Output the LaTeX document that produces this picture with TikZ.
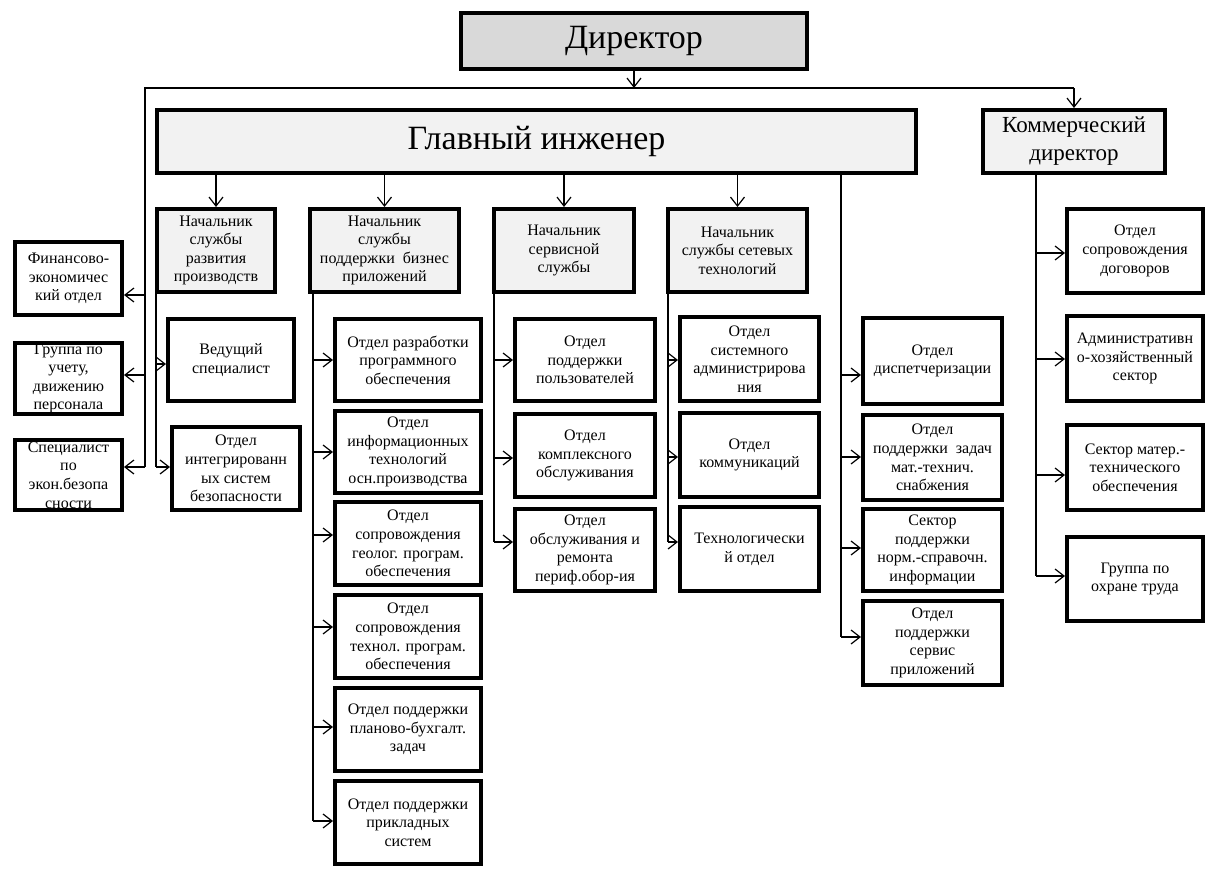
\documentclass[tikz,border=0pt]{standalone}
\usepackage{fontspec}
\setmainfont{Liberation Serif}
\usetikzlibrary{arrows.meta}
\definecolor{dirgray}{HTML}{D9D9D9}
\definecolor{headgray}{HTML}{F2F2F2}
\newcommand\bx[7]{%
  \pgfmathsetmacro\bxcx{(#3+#5)/2}%
  \pgfmathsetmacro\bxcy{(#4+#6)/2}%
  \pgfmathsetmacro\bxw{(#5-#3)*0.5-2}%
  \pgfmathsetmacro\bxh{(#6-#4)*0.5-2}%
  \node[#2,minimum width=\bxw pt,minimum height=\bxh pt] (#1) at (\bxcx,\bxcy) {#7};}
\begin{document}
\begin{tikzpicture}[x=0.5pt,y=-0.5pt,
  box/.style={draw, line width=2pt, align=center, inner sep=0pt, fill=white,
    font=\fontsize{8}{9.3}\selectfont},
  headbox/.style={box, fill=headgray},
  bigbox/.style={draw, line width=2pt, fill=headgray, align=center, inner sep=0pt,
    font=\fontsize{17}{20}\selectfont},
  kdbox/.style={bigbox, font=\fontsize{11.5}{14}\selectfont},
  conn/.style={line width=0.6pt},
  arr/.style={conn, -{Straight Barb[length=4.5pt,width=7pt]}}]
\useasboundingbox (0,0) rectangle (1207,869);

% top level
\bx{dir}{bigbox, fill=dirgray}{459}{11}{809}{71}{Директор}
\bx{gi}{bigbox}{155}{108}{918}{175}{Главный инженер}
\bx{kd}{kdbox}{981}{108}{1167}{175}{Коммерческий\\директор}

% heads
\bx{s1}{headbox}{155}{207}{277}{294}{Начальник\\службы\\развития\\производств}
\bx{s2}{headbox}{308}{207}{461}{294}{Начальник\\службы\\поддержки\ \ бизнес\\приложений}
\bx{s3}{headbox}{492}{207}{636}{294}{Начальник\\сервисной\\службы}
\bx{s4}{headbox}{666}{207}{809}{294}{Начальник\\службы сетевых\\технологий}

% left column
\bx{fin}{box}{13}{240}{124}{317}{Финансово-\\экономичес\\кий отдел}
\bx{grp}{box}{13}{341}{124}{416}{Группа по\\учету,\\движению\\персонала}
\bx{spec}{box}{13}{438}{124}{512}{Специалист\\по\\экон.безопа\\сности}

% column 1
\bx{ved}{box}{166}{317}{296}{403}{Ведущий\\специалист}
\bx{integ}{box}{170}{425}{302}{512}{Отдел\\интегрированн\\ых систем\\безопасности}

% column 2
\bx{c2a}{box}{333}{317}{483}{403}{Отдел разработки\\программного\\обеспечения}
\bx{c2b}{box}{333}{409}{483}{495}{Отдел\\информационных\\технологий\\осн.производства}
\bx{c2c}{box}{333}{500}{483}{587}{Отдел\\сопровождения\\геолог. програм.\\обеспечения}
\bx{c2d}{box}{333}{593}{483}{680}{Отдел\\сопровождения\\технол. програм.\\обеспечения}
\bx{c2e}{box}{333}{686}{483}{773}{Отдел поддержки\\планово-бухгалт.\\задач}
\bx{c2f}{box}{333}{779}{483}{866}{Отдел поддержки\\прикладных\\систем}

% column 3
\bx{c3a}{box}{513}{317}{657}{403}{Отдел\\поддержки\\пользователей}
\bx{c3b}{box}{513}{412}{657}{499}{Отдел\\комплексного\\обслуживания}
\bx{c3c}{box}{513}{507}{657}{593}{Отдел\\обслуживания и\\ремонта\\периф.обор-ия}

% column 4
\bx{c4a}{box}{678}{315}{821}{403}{Отдел\\системного\\администрирова\\ния}
\bx{c4b}{box}{678}{411}{821}{499}{Отдел\\коммуникаций}
\bx{c4c}{box}{678}{505}{821}{593}{Технологически\\й отдел}

% column 5
\bx{c5a}{box}{861}{316}{1004}{406}{Отдел\\диспетчеризации}
\bx{c5b}{box}{861}{413}{1004}{502}{Отдел\\поддержки\ \ задач\\мат.-технич.\\снабжения}
\bx{c5c}{box}{861}{507}{1004}{593}{Сектор\\поддержки\\норм.-справочн.\\информации}
\bx{c5d}{box}{861}{599}{1004}{687}{Отдел\\поддержки\\сервис\\приложений}

% column 6
\bx{c6a}{box}{1065}{207}{1205}{295}{Отдел\\сопровождения\\договоров}
\bx{c6b}{box}{1065}{314}{1205}{403}{Административн\\о-хозяйственный\\сектор}
\bx{c6c}{box}{1065}{423}{1205}{512}{Сектор матер.-\\технического\\обеспечения}
\bx{c6d}{box}{1065}{535}{1205}{623}{Группа по\\охране труда}

% director bus
\coordinate (busL) at (145,88);
\draw[arr] (dir.south) -- (dir.south |- busL);
\draw[conn] (busL |- 0,467) -- (busL) -- (kd.north |- busL);
\draw[arr] (kd.north |- busL) -- (kd.north);
\draw[arr] (busL |- 0,295) -- (fin.east |- 0,295);
\draw[arr] (busL |- 0,375) -- (grp.east |- 0,375);
\draw[arr] (busL |- 0,467) -- (spec.east |- 0,467);

% chief engineer to heads
\foreach \n in {s1,s2,s3,s4}
  \draw[arr] (gi.south -| \n.north) -- (\n.north);

% column 1 trunk
\coordinate (t1) at (s1.south -| 156,0);
\draw[conn] (t1) -- (t1 |- 0,467);
\draw[arr] (t1 |- 0,364) -- (ved.west |- 0,364);
\draw[arr] (t1 |- 0,467) -- (integ.west |- 0,467);

% column 2 trunk
\coordinate (t2) at (s2.south -| 313,0);
\draw[conn] (t2) -- (t2 |- 0,821);
\draw[arr] (t2 |- 0,360) -- (c2a.west |- 0,360);
\draw[arr] (t2 |- 0,452) -- (c2b.west |- 0,452);
\draw[arr] (t2 |- 0,535) -- (c2c.west |- 0,535);
\draw[arr] (t2 |- 0,627) -- (c2d.west |- 0,627);
\draw[arr] (t2 |- 0,727) -- (c2e.west |- 0,727);
\draw[arr] (t2 |- 0,821) -- (c2f.west |- 0,821);

% column 3 trunk
\coordinate (t3) at (s3.south -| 494,0);
\draw[conn] (t3) -- (t3 |- 0,542);
\draw[arr] (t3 |- 0,360) -- (c3a.west |- 0,360);
\draw[arr] (t3 |- 0,458) -- (c3b.west |- 0,458);
\draw[arr] (t3 |- 0,542) -- (c3c.west |- 0,542);

% column 4 trunk
\coordinate (t4) at (s4.south -| 668,0);
\draw[conn] (t4) -- (t4 |- 0,542);
\draw[arr] (t4 |- 0,360) -- (c4a.west |- 0,360);
\draw[arr] (t4 |- 0,457) -- (c4b.west |- 0,457);
\draw[arr] (t4 |- 0,542) -- (c4c.west |- 0,542);

% column 5 trunk (from chief engineer)
\coordinate (t5) at (gi.south -| 841,0);
\draw[conn] (t5) -- (t5 |- 0,637);
\draw[arr] (t5 |- 0,375) -- (c5a.west |- 0,375);
\draw[arr] (t5 |- 0,457) -- (c5b.west |- 0,457);
\draw[arr] (t5 |- 0,548) -- (c5c.west |- 0,548);
\draw[arr] (t5 |- 0,637) -- (c5d.west |- 0,637);

% column 6 trunk (from commercial director)
\coordinate (t6) at (kd.south -| 1036,0);
\draw[conn] (t6) -- (t6 |- 0,576);
\draw[arr] (t6 |- 0,253) -- (c6a.west |- 0,253);
\draw[arr] (t6 |- 0,359) -- (c6b.west |- 0,359);
\draw[arr] (t6 |- 0,475) -- (c6c.west |- 0,475);
\draw[arr] (t6 |- 0,576) -- (c6d.west |- 0,576);
\end{tikzpicture}
\end{document}
